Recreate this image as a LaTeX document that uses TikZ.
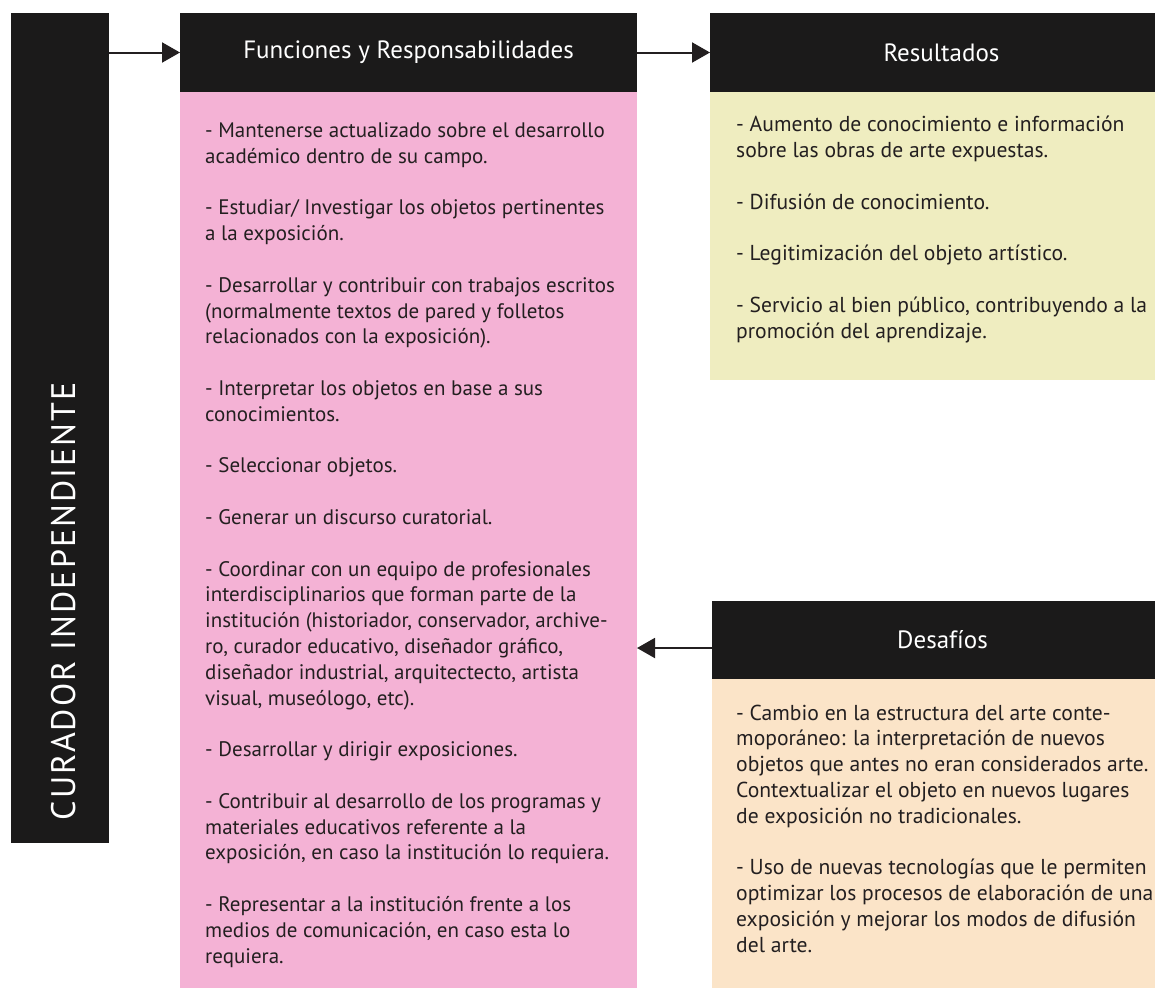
\documentclass[tikz,border=0pt]{standalone}
\usepackage{fontspec}
\setmainfont{PT Sans}
\newfontfamily\barfont[LetterSpace=6]{PT Sans}
\usetikzlibrary{arrows.meta,calc}
\definecolor{boxblack}{HTML}{1B1A1A}
\definecolor{pinkbody}{HTML}{F4B2D5}
\definecolor{resbody}{HTML}{EFEDC0}
\definecolor{desbody}{HTML}{FBE4C8}
\definecolor{txt}{HTML}{231F20}
\begin{document}
\begin{tikzpicture}[x=1pt,y=-1pt,
 panel/.style={anchor=north west, inner sep=0pt, outer sep=0pt},
 head/.style={panel, fill=boxblack, text=white, font=\fontsize{25}{28}\selectfont},
 bodytext/.style={anchor=north west, inner sep=0pt, align=left, text=txt, font=\fontsize{21}{25.8}\selectfont},
 sidetext/.style={bodytext, font=\fontsize{21.6}{25.8}\selectfont},
 arr/.style={draw=txt, line width=2pt, -{Triangle[length=18pt,width=20pt]}}]
\useasboundingbox (0,0) rectangle (1155,988);
\fill[white] (0,0) rectangle (1155,988);
% left bar
\node[panel, fill=boxblack, minimum width=98pt, minimum height=830pt] (bar) at (11,13) {};
\node[text=white, rotate=90, font=\barfont\fontsize{34}{34}\selectfont, inner sep=0pt] (barlabel) at (64,601) {CURADOR INDEPENDIENTE};
% Funciones
\node[head, minimum width=457pt, minimum height=79pt] (fh) at (180,13) {Funciones y Responsabilidades};
\node[panel, fill=pinkbody, minimum width=457pt, minimum height=896pt] (fb) at (180,92) {};
\node[bodytext] (ft) at (205,122.5) {%
- Mantenerse actualizado sobre el desarrollo\\
académico dentro de su campo.\\[25.8pt]
- Estudiar/ Investigar los objetos pertinentes\\
a la exposición.\\[25.8pt]
- Desarrollar y contribuir con trabajos escritos\\
(normalmente textos de pared y folletos\\
relacionados con la exposición).\\[25.8pt]
- Interpretar los objetos en base a sus\\
conocimientos.\\[25.8pt]
- Seleccionar objetos.\\[25.8pt]
- Generar un discurso curatorial.\\[25.8pt]
- Coordinar con un equipo de profesionales\\
interdisciplinarios que forman parte de la\\
institución (historiador, conservador, archive-\\
ro, curador educativo, diseñador gráfico,\\
diseñador industrial, arquitectecto, artista\\
visual, museólogo, etc).\\[25.8pt]
- Desarrollar y dirigir exposiciones.\\[25.8pt]
- Contribuir al desarrollo de los programas y\\
materiales educativos referente a la\\
exposición, en caso la institución lo requiera.\\[25.8pt]
- Representar a la institución frente a los\\
medios de comunicación, en caso esta lo\\
requiera.};
% Resultados
\node[head, minimum width=445pt, minimum height=79pt] (rh) at (710,13) {\hspace*{18pt}Resultados};
\node[panel, fill=resbody, minimum width=445pt, minimum height=288pt] (rb) at (710,92) {};
\node[sidetext] (rt) at (736,116) {%
- Aumento de conocimiento e información\\
sobre las obras de arte expuestas.\\[25.8pt]
- Difusión de conocimiento.\\[25.8pt]
- Legitimización del objeto artístico.\\[25.8pt]
- Servicio al bien público, contribuyendo a la\\
promoción del aprendizaje.};
% Desafios
\node[head, minimum width=443pt, minimum height=78pt] (dh) at (712,601) {\hspace*{18pt}Desafíos};
\node[panel, fill=desbody, minimum width=443pt, minimum height=309pt] (db) at (712,679) {};
\node[sidetext] (dt) at (736,704.5) {%
- Cambio en la estructura del arte conte-\\
moporáneo: la interpretación de nuevos\\
objetos que antes no eran considerados arte.\\
Contextualizar el objeto en nuevos lugares\\
de exposición no tradicionales.\\[25.8pt]
- Uso de nuevas tecnologías que le permiten\\
optimizar los procesos de elaboración de una\\
exposición y mejorar los modos de difusión\\
del arte.};
% arrows
\draw[arr] (bar.east |- fh.west) -- (fh.west);
\draw[arr] (fh.east) -- (rh.west);
\coordinate (dhw) at ($(dh.west)+(0,8)$);
\draw[arr] (dhw) -- (dhw -| fb.east);
\end{tikzpicture}
\end{document}
